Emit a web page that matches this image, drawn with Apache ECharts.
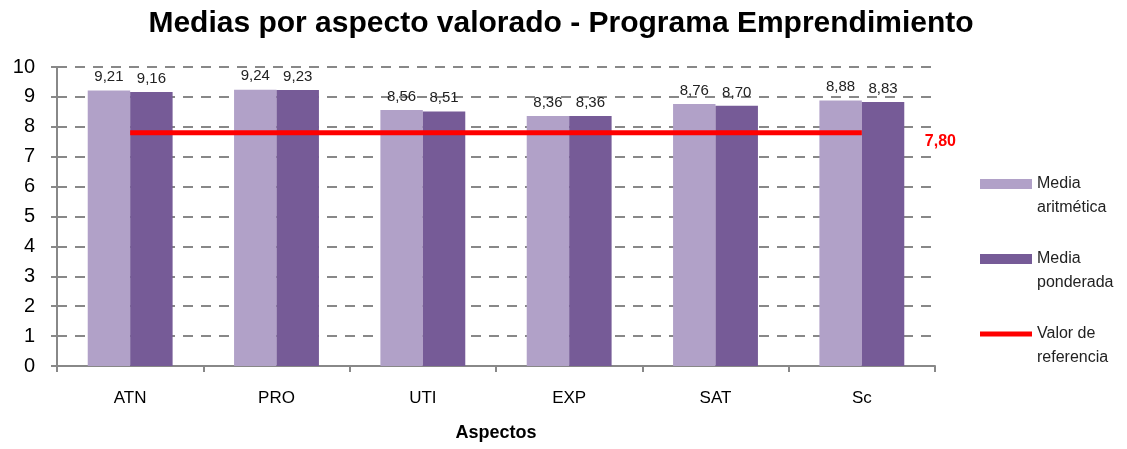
<!DOCTYPE html>
<html>
<head>
<meta charset="utf-8">
<script src="https://cdn.jsdelivr.net/npm/echarts@6/dist/echarts.min.js"></script>
<style>
  html, body { margin: 0; padding: 0; background: #fff; }
  #chart { width: 1127px; height: 449px; }
</style>
</head>
<body>
<div id="chart"></div>
<script>
const categories = ['ATN', 'PRO', 'UTI', 'EXP', 'SAT', 'Sc'];
const mediaAritmetica = [9.21, 9.24, 8.56, 8.36, 8.76, 8.88];
const mediaPonderada = [9.16, 9.23, 8.51, 8.36, 8.70, 8.83];
const valorReferencia = [7.80, 7.80, 7.80, 7.80, 7.80, 7.80];

const fmt = v => v.toFixed(2).replace('.', ',');
const font = '"Liberation Sans", Arial, sans-serif';

var chart = echarts.init(document.getElementById('chart'));
var option = {
  animation: false,
  textStyle: { fontFamily: font },
  title: {
    text: 'Medias por aspecto valorado - Programa Emprendimiento',
    left: 556, top: 4, textAlign: 'center',
    textStyle: { fontSize: 30, fontWeight: 'bold', color: '#000', fontFamily: font }
  },
  legend: {
    orient: 'vertical',
    left: 975, top: 143,
    itemWidth: 52, itemHeight: 10,
    itemGap: 3,
    // blank first line so the icon sits level with the first text line
    formatter: name => ' \n' + name,
    textStyle: { fontSize: 16, color: '#222', lineHeight: 24, fontFamily: font },
    data: [
      { name: 'Media\naritmética', icon: 'rect' },
      { name: 'Media\nponderada', icon: 'rect' },
      { name: 'Valor de\nreferencia', icon: 'path://M0,0 L52,0 L52,5 L0,5 Z' }
    ]
  },
  grid: { left: 57, right: 192, top: 67, bottom: 83 },
  xAxis: {
    type: 'category',
    data: categories,
    name: 'Aspectos',
    nameLocation: 'middle',
    nameGap: 58,
    nameTextStyle: { fontSize: 18, fontWeight: 'bold', color: '#000', fontFamily: font },
    axisLine: { lineStyle: { color: '#888', width: 2 } },
    axisTick: { show: true, length: 6, lineStyle: { color: '#888', width: 2 } },
    axisLabel: { fontSize: 17, color: '#000', margin: 24 }
  },
  yAxis: {
    type: 'value',
    min: 0, max: 10, interval: 1,
    axisLine: { show: true, lineStyle: { color: '#888', width: 2 } },
    axisTick: { show: true, length: 6, lineStyle: { color: '#888', width: 2 } },
    axisLabel: { fontSize: 20, color: '#000', margin: 22 },
    splitLine: { lineStyle: { color: '#888', type: [10, 8], width: 2 } }
  },
  series: [
    {
      name: 'Media\naritmética',
      type: 'bar',
      data: mediaAritmetica,
      barGap: '0%',
      barCategoryGap: '42%',
      itemStyle: { color: '#b1a1c8' },
      label: { show: true, position: 'top', fontSize: 15, color: '#222', formatter: p => fmt(p.value), distance: 6 }
    },
    {
      name: 'Media\nponderada',
      type: 'bar',
      data: mediaPonderada,
      itemStyle: { color: '#765b97' },
      label: { show: true, position: 'top', fontSize: 15, color: '#222', formatter: p => fmt(p.value), distance: 6 }
    },
    {
      name: 'Valor de\nreferencia',
      type: 'line',
      data: valorReferencia,
      symbol: 'none',
      lineStyle: { color: '#ff0000', width: 5 },
      itemStyle: { color: '#ff0000' },
      z: 5,
      endLabel: {
        show: true,
        formatter: p => fmt(p.value),
        color: '#ff0000', fontWeight: 'bold', fontSize: 16,
        offset: [55, 9]
      }
    }
  ]
};
option && chart.setOption(option);
</script>
</body>
</html>
